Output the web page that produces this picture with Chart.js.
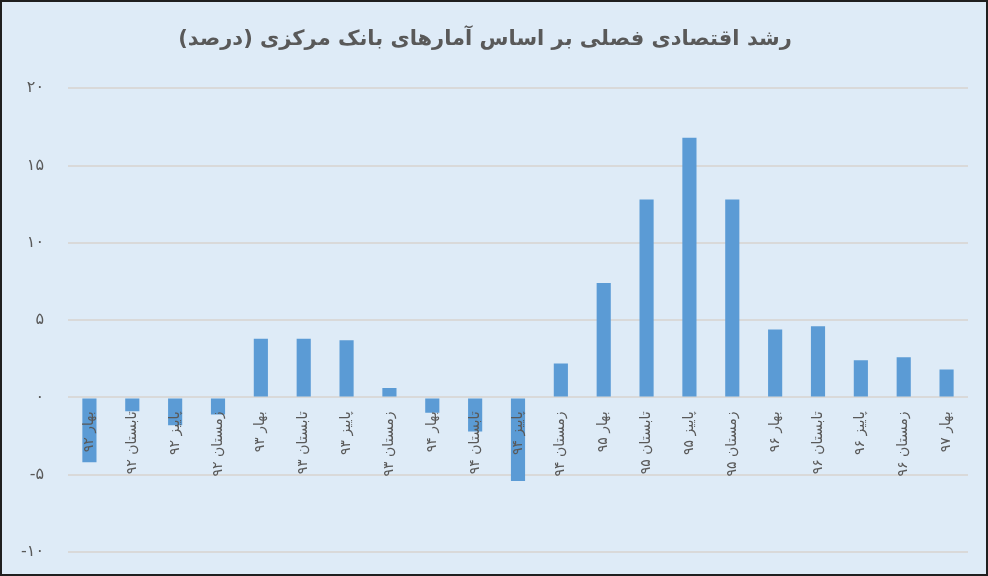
<!DOCTYPE html>
<html lang="fa">
<head>
<meta charset="utf-8">
<title>رشد اقتصادی فصلی</title>
<script src="https://cdn.jsdelivr.net/npm/chart.js@4.4.1/dist/chart.umd.min.js"></script>
<style>
    html, body { margin: 0; padding: 0; background: #ffffff; }
    #wrap {
        width: 988px;
        height: 576px;
        box-sizing: border-box;
        border: 2px solid #1f1f1f;
        background: #deebf7;
    }
    #growthChart { display: block; width: 984px; height: 572px; }
</style>
</head>
<body>
<div id="wrap">
    <canvas id="growthChart" width="984" height="572"></canvas>
</div>
<script>
// quarters, as labelled in the source chart
const quarters = [
    'بهار ۹۲', 'تابستان ۹۲', 'پاییز ۹۲', 'زمستان ۹۲',
    'بهار ۹۳', 'تابستان ۹۳', 'پاییز ۹۳', 'زمستان ۹۳',
    'بهار ۹۴', 'تابستان ۹۴', 'پاییز ۹۴', 'زمستان ۹۴',
    'بهار ۹۵', 'تابستان ۹۵', 'پاییز ۹۵', 'زمستان ۹۵',
    'بهار ۹۶', 'تابستان ۹۶', 'پاییز ۹۶', 'زمستان ۹۶',
    'بهار ۹۷'
];

// quarterly growth, percent
const growth = [
    -4.2, -0.9, -1.8, -1.1,
    3.8, 3.8, 3.7, 0.6,
    -1.0, -2.2, -5.4, 2.2,
    7.4, 12.8, 16.8, 12.8,
    4.4, 4.6, 2.4, 2.6,
    1.8
];

const yMin = -10;
const yMax = 20;
const yStep = 5;

const chartTitle = 'رشد اقتصادی فصلی بر اساس آمارهای بانک مرکزی (درصد)';

const faDigits = '۰۱۲۳۴۵۶۷۸۹';
function toPersianDigits(value) {
    return String(value).replace(/[0-9]/g, d => faDigits[d]);
}

const textColor = '#595959';
const fontFamily = '"DejaVu Sans", "Noto Sans", sans-serif';

const ctx = document.getElementById('growthChart').getContext('2d');

new Chart(ctx, {
    type: 'bar',
    data: {
        labels: quarters,
        datasets: [{
            label: 'رشد اقتصادی',
            data: growth,
            backgroundColor: '#5b9bd5',
            borderWidth: 0,
            barPercentage: 0.33,
            categoryPercentage: 1.0
        }]
    },
    options: {
        responsive: false,
        maintainAspectRatio: false,
        animation: false,
        layout: {
            padding: { top: 1, right: 18, bottom: 22, left: 0 }
        },
        plugins: {
            legend: { display: false },
            tooltip: { enabled: false },
            title: {
                display: true,
                text: chartTitle,
                color: textColor,
                font: { family: fontFamily, size: 21, weight: 'bold' },
                padding: { top: 24, bottom: 36 }
            }
        },
        scales: {
            x: {
                position: { y: 0 },
                grid: { display: false, drawTicks: false },
                border: { display: false },
                ticks: {
                    z: 1, // labels sit over the bars, like the original
                    color: textColor,
                    font: { family: fontFamily, size: 14 },
                    minRotation: 90,
                    maxRotation: 90,
                    autoSkip: false,
                    padding: 14
                }
            },
            y: {
                min: yMin,
                max: yMax,
                grid: {
                    color: '#d9d9d9',
                    lineWidth: 2,
                    // invisible tick marks give the gap between labels and plot;
                    // ticks.padding would also pad the plot top/bottom
                    drawTicks: true,
                    tickLength: 24,
                    tickColor: 'rgba(0,0,0,0)'
                },
                border: { display: false },
                ticks: {
                    stepSize: yStep,
                    color: textColor,
                    font: { family: fontFamily, size: 16 },
                    padding: 0,
                    callback: value => toPersianDigits(value)
                },
                afterFit: scale => { scale.width = 66; }
            }
        }
    }
});
</script>
</body>
</html>
